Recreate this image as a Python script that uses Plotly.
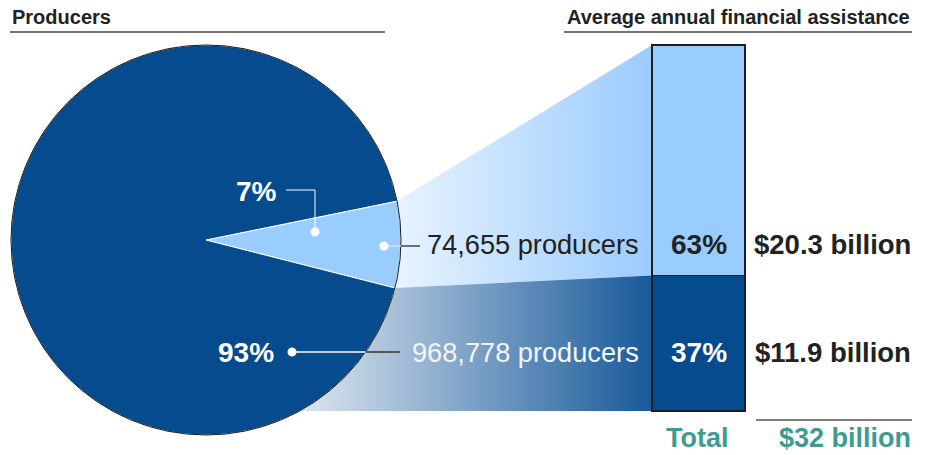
import math
import plotly.graph_objects as go

# ---------------- data ----------------
producer_groups = ["Top producers", "Other producers"]
producer_counts = [74655, 968778]
producer_pct_labels = ["7%", "93%"]
assistance_pct = [63, 37]
assistance_billion = [20.3, 11.9]
total_billion = 32

# ---------------- style / layout ----------------
W, H = 925, 455
DARK = "#054b8d"
LIGHT = "#99ccff"
TEAL = "#3e9b91"
TXT = "#222222"
FONT = "Liberation Sans, Arial, sans-serif"

CX, CY, R = 206, 240, 195          # pie position (px)
ROT = 78.5                          # pie rotation
BAR_L, BAR_R, BAR_T, BAR_B = 652, 745, 45, 411   # bar frame (px)
PAD = 4

share_small = producer_counts[0] / sum(producer_counts)
a_top = math.radians(90 - ROT)
a_bot = a_top - 2 * math.pi * share_small


def on_circle(a):
    return (CX + R * math.cos(a), CY - R * math.sin(a))


p_top = on_circle(a_top)
p_bot = on_circle(a_bot)
y_div = BAR_B - (BAR_B - BAR_T) * assistance_pct[1] / sum(assistance_pct)
x_bot = CX + math.sqrt(R ** 2 - (BAR_B - CY) ** 2)

fig = go.Figure()

# gradient connectors
fig.add_trace(go.Scatter(
    x=[p_top[0], BAR_L, BAR_L, p_bot[0], p_top[0]],
    y=[p_top[1], BAR_T, y_div, p_bot[1], p_top[1]],
    mode="lines", line=dict(width=0), fill="toself",
    fillgradient=dict(type="horizontal", colorscale=[[0, "#e8f3ff"], [1, "#9bcbfd"]]),
    hoverinfo="skip", showlegend=False))
fig.add_trace(go.Scatter(
    x=[p_bot[0], BAR_L, BAR_L, x_bot, p_bot[0]],
    y=[p_bot[1], y_div, BAR_B, BAR_B, p_bot[1]],
    mode="lines", line=dict(width=0), fill="toself",
    fillgradient=dict(type="horizontal", colorscale=[[0, "#dde6ef"], [1, "#18599a"]]),
    hoverinfo="skip", showlegend=False))

# pie
fig.add_trace(go.Pie(
    labels=producer_groups, values=producer_counts,
    marker=dict(colors=[LIGHT, DARK], line=dict(color="white", width=1)),
    sort=False, direction="clockwise", rotation=ROT,
    textinfo="none", showlegend=False, hoverinfo="skip",
    domain=dict(x=[(CX - R) / W, (CX + R) / W], y=[(H - CY - R) / H, (H - CY + R) / H])))

# stacked bar (bottom segment first)
for i, col in [(1, DARK), (0, LIGHT)]:
    fig.add_trace(go.Bar(
        x=["Assistance"], y=[assistance_pct[i]], width=1,
        xaxis="x2", yaxis="y2",
        marker=dict(color=col, line=dict(color="#1e1e1e", width=1.5)),
        showlegend=False, hoverinfo="skip"))

half = 0.5 * (BAR_R - BAR_L + 2 * PAD) / (BAR_R - BAR_L)
upp = sum(assistance_pct) / (BAR_B - BAR_T)

fig.update_layout(
    width=W, height=H, margin=dict(l=0, r=0, t=0, b=0),
    paper_bgcolor="white", plot_bgcolor="rgba(0,0,0,0)",
    barmode="stack", showlegend=False,
    xaxis=dict(range=[0, W], visible=False, fixedrange=True),
    yaxis=dict(range=[H, 0], visible=False, fixedrange=True),
    xaxis2=dict(domain=[(BAR_L - PAD) / W, (BAR_R + PAD) / W], anchor="y2",
                range=[-half, half], visible=False, type="category"),
    yaxis2=dict(domain=[(H - BAR_B - PAD) / H, (H - BAR_T + PAD) / H], anchor="x2",
                range=[-PAD * upp, sum(assistance_pct) + PAD * upp], visible=False),
)

shapes = []
def line(x0, y0, x1, y1, color, width=1.5):
    shapes.append(dict(type="line", xref="x", yref="y", x0=x0, y0=y0, x1=x1, y1=y1,
                       line=dict(color=color, width=width), layer="above"))

def dot(x, y, r=4.5):
    shapes.append(dict(type="circle", xref="x", yref="y", x0=x - r, y0=y - r, x1=x + r, y1=y + r,
                       fillcolor="white", line=dict(color="white", width=0), layer="above"))

# header rules and total rule
line(10, 32, 385, 32, "#444444")
line(564, 32, 912, 32, "#444444")
line(756, 420, 912, 420, "#555555")

# pie outline
shapes.append(dict(type="circle", xref="x", yref="y", x0=CX - R, y0=CY - R, x1=CX + R, y1=CY + R,
                   line=dict(color="#1a1a1a", width=1), layer="above"))

# leader for 7%
line(286, 190, 315, 190, "white", 1)
line(315, 190, 315, 232, "white", 1)
dot(315, 232)
# leader for 74,655
arc1 = CX + math.sqrt(R ** 2 - (246 - CY) ** 2)
line(384, 246, arc1, 246, "#e0e0e0", 1.5)
line(arc1, 246, 420, 246, "#444444", 1.5)
dot(384, 246)
# leader for 93%
arc2 = CX + math.sqrt(R ** 2 - (352 - CY) ** 2)
line(292, 352, arc2, 352, "white", 1.5)
line(arc2, 352, 400, 352, "#333333", 1.5)
dot(292, 352)

fig.update_layout(shapes=shapes)

ann = []
def text(x, y, s, size, color, bold=False, xanchor="center"):
    ann.append(dict(x=x, y=y, xref="x", yref="y", text=f"<b>{s}</b>" if bold else s,
                    showarrow=False, xanchor=xanchor, yanchor="middle",
                    font=dict(family=FONT, size=size, color=color)))

text(10, 17, "Producers", 20, TXT, True, "left")
text(912, 17, "Average annual financial assistance", 20, TXT, True, "right")
text(256, 191, producer_pct_labels[0], 28, "white", True)
text(246, 352, producer_pct_labels[1], 28, "white", True)
text(641, 244, f"{producer_counts[0]:,} producers", 27.2, TXT, False, "right")
text(641, 352, f"{producer_counts[1]:,} producers", 27.2, "#f2f6fa", False, "right")
bar_cx = (BAR_L + BAR_R) / 2
text(bar_cx, 244, f"{assistance_pct[0]}%", 28, TXT, True)
text(bar_cx, 352, f"{assistance_pct[1]}%", 28, "white", True)
text(913, 244, f"${assistance_billion[0]} billion", 27.5, TXT, True, "right")
text(913, 352, f"${assistance_billion[1]} billion", 27.5, TXT, True, "right")
text(697, 438, "Total", 27, TEAL, True)
text(913, 438, f"${total_billion} billion", 27, TEAL, True, "right")

fig.update_layout(annotations=ann)

fig.write_html("out.html", config={"displayModeBar": False},
               post_script="document.body.style.margin='0px';document.body.style.overflow='hidden';")
